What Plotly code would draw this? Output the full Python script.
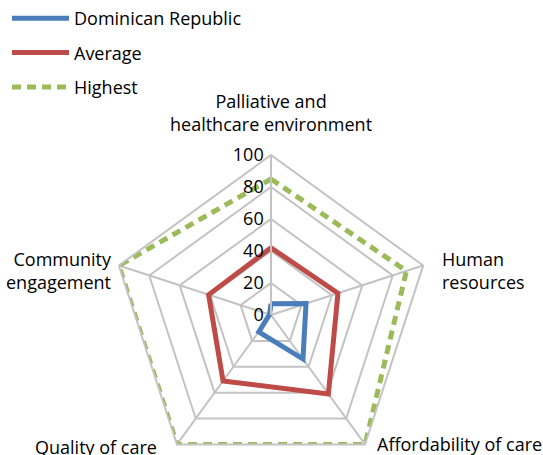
import plotly.graph_objects as go

categories = ["Palliative and healthcare environment", "Human resources",
              "Affordability of care", "Quality of care", "Community engagement"]
label_texts = ["Palliative and<br>healthcare environment", "Human<br>resources",
               "Affordability of care", "Quality of care", "Community<br>engagement"]

dominican = [7, 23, 34, 13, 1]
average = [42, 44, 61, 51, 41]
highest = [85, 89, 100, 100, 100]

tick_vals = [0, 20, 40, 60, 80, 100]

W, H = 543, 475
FONT = "Open Sans"
GRID = "#c3c3c3"

fig = go.Figure()

def closed(v):
    return v + [v[0]]

cats_closed = categories + [categories[0]]

fig.add_trace(go.Scatterpolar(r=closed(dominican), theta=cats_closed, mode="lines",
                              name="Dominican Republic", legendgroup="a",
                              line=dict(color="#4a7ebb", width=5)))
fig.add_trace(go.Scatterpolar(r=closed(average), theta=cats_closed, mode="lines",
                              name="Average", legendgroup="b",
                              line=dict(color="#be4b48", width=5)))
fig.add_trace(go.Scatterpolar(r=closed(highest), theta=cats_closed, mode="lines",
                              name="Highest", legendgroup="c",
                              line=dict(color="#9bbb59", width=5, dash="9px,6px")))

cx, cy, R = 271, 315, 160
fig.update_layout(
    width=W, height=H,
    margin=dict(l=0, r=0, t=0, b=0),
    paper_bgcolor="white",
    font=dict(family=FONT, size=18, color="black"),
    showlegend=True,
    legend=dict(x=7 / W, y=1, xanchor="left", yanchor="top", itemwidth=57,
                tracegroupgap=8, font=dict(size=18, family=FONT),
                bgcolor="rgba(0,0,0,0)"),
    polar=dict(
        domain=dict(x=[(cx - R) / W, (cx + R) / W], y=[(H - cy - R) / H, (H - cy + R) / H]),
        bgcolor="white",
        gridshape="linear",
        radialaxis=dict(range=[0, 100], tickvals=tick_vals, angle=90,
                        side="counterclockwise", tickangle=90,
                        showline=True, linecolor=GRID, linewidth=2,
                        gridcolor=GRID, gridwidth=2, ticks="",
                        tickfont=dict(size=18, family=FONT)),
        angularaxis=dict(type="category", categoryarray=categories,
                         direction="clockwise", rotation=90,
                         showticklabels=False, ticks="",
                         linecolor=GRID, linewidth=2,
                         gridcolor=GRID, gridwidth=2),
    ),
)

# category labels
label_pos = [
    (271, 112, "center", "center"),
    (440, 270, "left", "left"),
    (375, 444, "left", "left"),
    (159, 447, "right", "right"),
    (114, 270, "right", "right"),
]
for txt, (x, y, xa, al) in zip(label_texts, label_pos):
    fig.add_annotation(x=x / W, y=1 - y / H, xref="paper", yref="paper",
                       text=txt, showarrow=False, xanchor=xa, yanchor="middle",
                       align=al, font=dict(size=18, family=FONT, color="black"))

fig.write_html("out.html", config={"displayModeBar": False},
               post_script="document.body.style.margin='0';document.body.style.overflow='hidden';")
